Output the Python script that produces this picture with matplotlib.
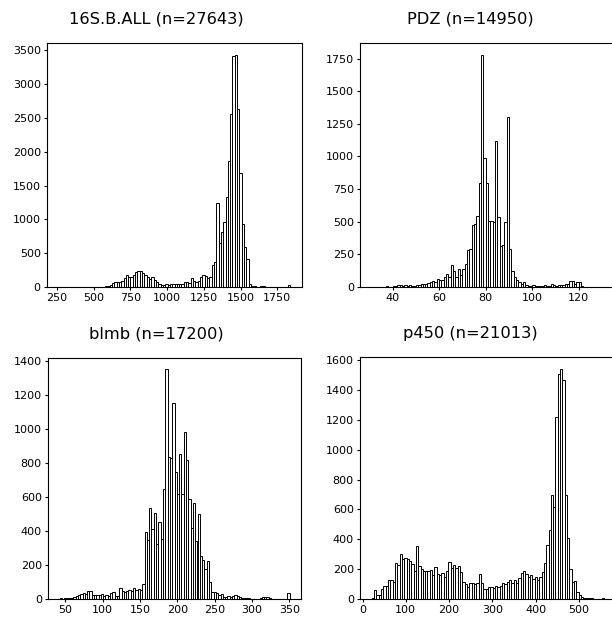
import numpy as np
import matplotlib
matplotlib.use("Agg")
import matplotlib.pyplot as plt

# ---------------- data ----------------
titles = ["16S.B.ALL (n=27643)", "PDZ (n=14950)", "blmb (n=17200)", "p450 (n=21013)"]

# 16S.B.ALL : 100 bins between lo and hi
s16_range = (260, 1840)
s16_counts = [2, 0, 0, 1, 0, 0, 1, 0, 0, 0, 1, 0, 0, 2, 0, 1, 3, 3, 5,
              5, 10, 15, 30, 60, 80, 75, 80, 90, 130, 170, 150, 150, 180, 220, 240, 235, 200, 170, 150,
              120, 150, 110, 70, 50, 30, 30, 45, 35, 45, 40, 40, 50, 50,
              50, 80, 70, 60, 130, 90, 80, 90, 150, 180, 160, 130, 150,
              320, 375, 1235, 650, 820, 960, 1330, 1860, 2560, 3410, 3435, 2630, 1690, 930, 590, 420, 50,
              20, 10, 5, 5, 8, 10, 5, 5, 3, 5, 5, 3, 2, 3, 5, 3, 25]
s16_xticks = [250, 500, 750, 1000, 1250, 1500, 1750]

# PDZ
pdz_range = (31, 131)
pdz_counts = [2, 1, 3, 2, 3, 2, 5, 3, 3, 5, 5, 12, 15, 10, 15, 10, 15, 10, 10, 15,
              15, 20, 25, 25, 30, 35, 45, 40,
              60, 55, 50, 80, 100, 75, 165, 125, 80, 140, 95, 140, 180, 280, 290, 475, 480, 545, 795,
              1780, 990, 800, 505, 505, 500, 1120, 535, 315, 320, 500, 1300, 290,
              125, 80, 55, 35, 25, 40, 15, 10, 10, 12, 10, 10, 8, 10, 12, 10, 10, 25, 15, 10,
              15, 15, 15, 20, 20, 45, 45, 20, 40, 35, 5, 3, 3, 2, 1, 1, 1, 1, 1, 3]
pdz_xticks = [40, 60, 80, 100, 120]

# blmb
blmb_range = (42, 350)
blmb_counts = [3, 2, 3, 5, 5, 8, 10, 20, 25, 28, 35, 30, 45, 45, 25, 25, 25, 25, 30, 15,
               25, 20, 35, 40, 15, 15, 65, 45, 40, 45, 50, 45, 65, 55, 60, 55, 90,
               395, 345, 535, 410, 505, 325, 450, 350, 645, 1350, 835, 830, 1150, 745, 620, 850,
               615, 985, 820, 590, 420, 565, 340, 500, 255, 230, 175, 225,
               100, 40, 40, 35, 25, 30, 10, 10, 15, 10, 15, 25, 15, 10, 8, 5, 5, 3, 2, 0,
               0, 2, 3, 10, 12, 10, 5, 0, 0, 0, 0, 0, 0, 0, 35]
blmb_xticks = [50, 100, 150, 200, 250, 300, 350]

# p450
p450_range = (21, 559)
p450_counts = [5, 60, 30, 28, 70, 85, 90, 130, 130, 115, 240, 225, 300, 265, 275, 270, 255, 235, 185, 355,
               220, 200, 190, 185, 185, 195, 160, 215, 165, 160, 175, 150, 190, 250, 210, 225, 210, 220,
               180, 115, 100, 80, 110, 105, 100, 110,
               165, 105, 65, 70, 80, 80, 75, 85, 80, 90, 110, 100, 115, 125, 105, 130, 110, 140,
               175, 185, 165, 150, 160, 135, 145, 130, 150, 180, 240, 360, 460, 700, 620, 1220,
               1510, 1545, 1470, 700, 410, 200, 115, 120, 45, 30, 15, 10, 8, 5, 5, 3, 2, 2, 1, 5]
p450_xticks = [0, 100, 200, 300, 400, 500]

panels = [
    (s16_range, s16_counts, s16_xticks),
    (pdz_range, pdz_counts, pdz_xticks),
    (blmb_range, blmb_counts, blmb_xticks),
    (p450_range, p450_counts, p450_xticks),
]

# ---------------- figure ----------------
W, H = 612, 617
fig = plt.figure(figsize=(W / 100, H / 100), dpi=100)

# axes boxes in pixels: left, top, right, bottom
boxes = [
    (47, 43, 302, 287),
    (360, 43, 616, 287),
    (48, 358, 301, 599),
    (360, 357, 616, 599),
]

for (l, t, r, b), title, (rng, counts, xt) in zip(boxes, titles, panels):
    ax = fig.add_axes([l / W, 1 - b / H, (r - l) / W, (b - t) / H])
    edges = np.linspace(rng[0], rng[1], len(counts) + 1)
    centers = (edges[:-1] + edges[1:]) / 2
    ax.hist(centers, bins=edges, weights=counts, facecolor="white",
            edgecolor="black", linewidth=0.7)
    ax.set_xticks(xt)
    ax.tick_params(labelsize=8, length=2.5, width=0.8, pad=2)
    for sp in ax.spines.values():
        sp.set_linewidth(0.8)
    ax.set_title(title, fontsize=11.7, pad=14, x=0.43)

fig.savefig("out.png", dpi=100)
